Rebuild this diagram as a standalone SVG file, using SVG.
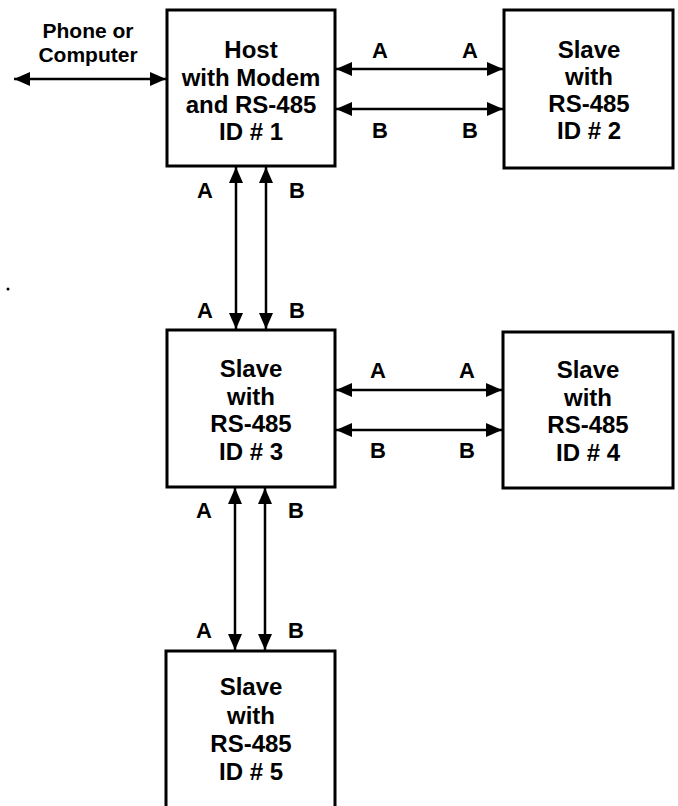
<svg xmlns="http://www.w3.org/2000/svg" width="678" height="806" viewBox="0 0 678 806">
<style>
.box{fill:#fff;stroke:#000;stroke-width:3}
.t{font-family:"Liberation Sans",Arial,sans-serif;font-weight:bold;font-size:24px;text-anchor:middle;fill:#000}
.p{font-family:"Liberation Sans",Arial,sans-serif;font-weight:bold;font-size:21px;text-anchor:middle;fill:#000}
.l{font-family:"Liberation Sans",Arial,sans-serif;font-weight:bold;font-size:22px;text-anchor:middle;fill:#000}
.c{stroke:#000;stroke-width:2.5;fill:none;marker-start:url(#ah);marker-end:url(#ah)}
</style>
<defs>
<marker id="ah" markerUnits="userSpaceOnUse" markerWidth="18" markerHeight="16" refX="16" refY="7" orient="auto-start-reverse">
<path d="M0,0 L16,7 L0,14 Z" fill="#000"/>
</marker>
</defs>
<rect width="678" height="806" fill="#fff"/>
<g id="connectors">
<line class="c" x1="14" y1="79" x2="166" y2="79"/>
<line class="c" x1="336" y1="69" x2="503" y2="69"/>
<line class="c" x1="336" y1="109" x2="503" y2="109"/>
<line class="c" x1="236" y1="167" x2="236" y2="329"/>
<line class="c" x1="266" y1="167" x2="266" y2="329"/>
<line class="c" x1="336" y1="390" x2="502" y2="390"/>
<line class="c" x1="336" y1="430" x2="502" y2="430"/>
<line class="c" x1="235" y1="488" x2="235" y2="650"/>
<line class="c" x1="265" y1="488" x2="265" y2="650"/>
<text class="p" x="88" y="38">Phone or</text>
<text class="p" x="88" y="62">Computer</text>
<text class="l" x="380" y="58">A</text>
<text class="l" x="470" y="58">A</text>
<text class="l" x="380" y="138">B</text>
<text class="l" x="470" y="138">B</text>
<text class="l" x="205" y="198">A</text>
<text class="l" x="297" y="198">B</text>
<text class="l" x="205" y="318">A</text>
<text class="l" x="297" y="318">B</text>
<text class="l" x="378" y="378">A</text>
<text class="l" x="467" y="378">A</text>
<text class="l" x="378" y="458">B</text>
<text class="l" x="467" y="458">B</text>
<text class="l" x="204" y="518">A</text>
<text class="l" x="296" y="518">B</text>
<text class="l" x="204" y="638">A</text>
<text class="l" x="296" y="638">B</text>
</g>
<g id="host">
<rect class="box" x="167" y="10" width="168" height="156"/>
<text class="t" x="251" y="58">Host</text>
<text class="t" x="251" y="86">with Modem</text>
<text class="t" x="251" y="113">and RS-485</text>
<text class="t" x="251" y="140">ID # 1</text>
</g>
<g id="slave2">
<rect class="box" x="504" y="10" width="169" height="158"/>
<text class="t" x="589" y="58">Slave</text>
<text class="t" x="589" y="85">with</text>
<text class="t" x="589" y="112">RS-485</text>
<text class="t" x="589" y="139">ID # 2</text>
</g>
<g id="slave3">
<rect class="box" x="167" y="330" width="168" height="157"/>
<text class="t" x="251" y="377">Slave</text>
<text class="t" x="251" y="405">with</text>
<text class="t" x="251" y="432">RS-485</text>
<text class="t" x="251" y="460">ID # 3</text>
</g>
<g id="slave4">
<rect class="box" x="503" y="332" width="170" height="156"/>
<text class="t" x="588" y="378">Slave</text>
<text class="t" x="588" y="406">with</text>
<text class="t" x="588" y="433">RS-485</text>
<text class="t" x="588" y="461">ID # 4</text>
</g>
<g id="slave5">
<rect class="box" x="166" y="651" width="169" height="170"/>
<text class="t" x="251" y="695">Slave</text>
<text class="t" x="251" y="724">with</text>
<text class="t" x="251" y="752">RS-485</text>
<text class="t" x="251" y="780">ID # 5</text>
</g>
<circle cx="8" cy="289" r="1.5" fill="#000"/>
</svg>
